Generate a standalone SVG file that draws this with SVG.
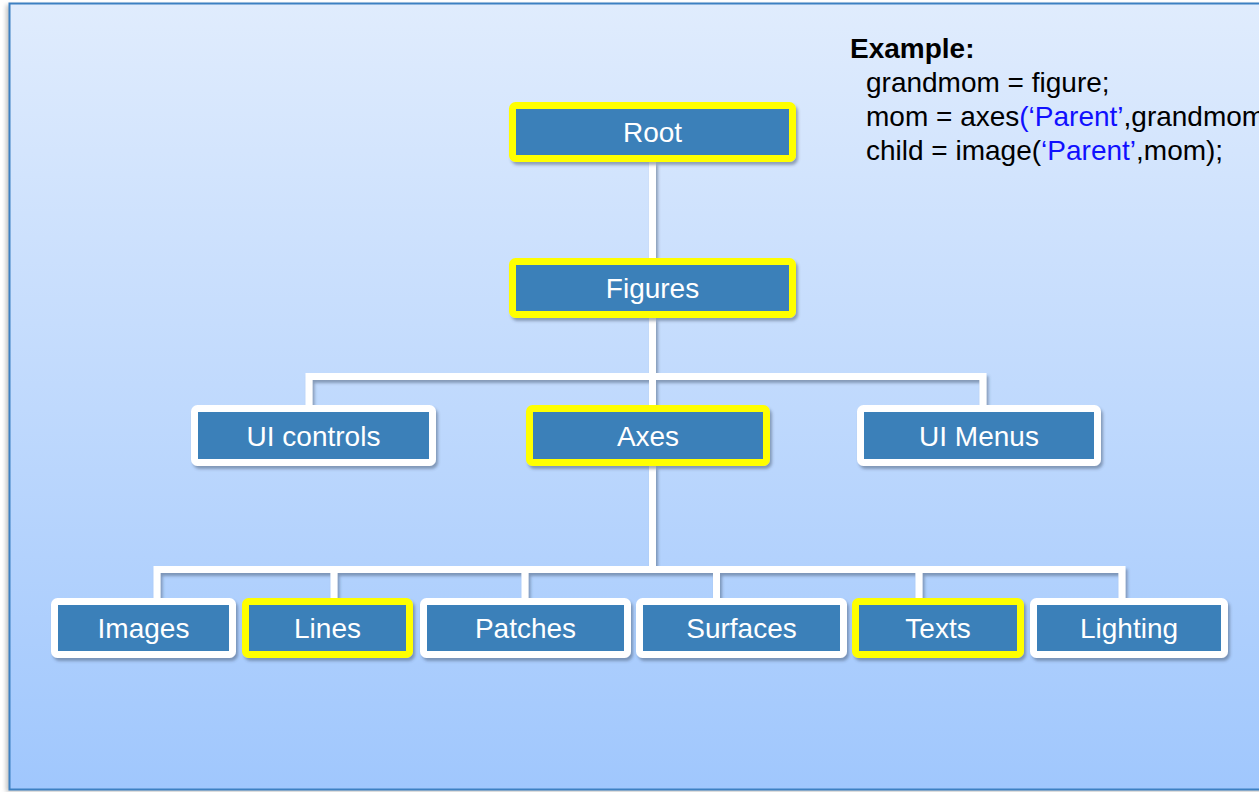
<svg xmlns="http://www.w3.org/2000/svg" width="1259" height="792" viewBox="0 0 1259 792">
<defs>
<linearGradient id="bg" x1="0" y1="0" x2="0" y2="1">
<stop offset="0" stop-color="#e0ecfd"/>
<stop offset="1" stop-color="#a0c7fd"/>
</linearGradient>
<filter id="sh" x="-10%" y="-10%" width="120%" height="130%">
<feDropShadow dx="2" dy="3" stdDeviation="1.6" flood-color="#3a4a60" flood-opacity="0.45"/>
</filter>
<filter id="psh" x="-5%" y="-5%" width="110%" height="110%">
<feGaussianBlur stdDeviation="2"/>
</filter>
</defs>
<style>
.box{fill:#3a80b9;stroke-width:7;filter:url(#sh)}
.w{stroke:#ffffff}
.y{stroke:#ffff00}
.lbl{font-family:"Liberation Sans",Arial,sans-serif;font-size:28px;fill:#ffffff;text-anchor:middle}
.code{font-family:"Liberation Sans",Arial,sans-serif;font-size:28px;fill:#000000}
.blue{fill:#1010ff}
.conn{fill:none;stroke:#ffffff;stroke-width:7;stroke-linecap:butt;stroke-linejoin:miter}
</style>
<rect x="0" y="0" width="1259" height="792" fill="#ffffff"/>
<rect x="6" y="5" width="1260" height="787" fill="#8a8a8a" opacity="0.5" filter="url(#psh)"/>
<rect x="9.5" y="3.5" width="1260" height="786" fill="url(#bg)" stroke="#3d80c2" stroke-width="2"/>

<g id="example">
<text class="code" x="850" y="58" font-weight="bold">Example:</text>
<text class="code" x="866" y="92">grandmom = figure;</text>
<text class="code" x="866" y="126">mom = axes<tspan class="blue">(‘Parent’</tspan>,grandmom</text>
<text class="code" x="866" y="160">child = image(<tspan class="blue">‘Parent’</tspan>,mom);</text>
</g>

<g id="connectors" filter="url(#sh)">
<path class="conn" d="M652.5 162 V258"/>
<path class="conn" d="M652.5 318 V405"/>
<path class="conn" d="M309 405 V376.5 H983 V405"/>
<path class="conn" d="M652.5 466 V569.5"/>
<path class="conn" d="M157 598 V569.5 H1122 V598"/>
<path class="conn" d="M334 569.5 V598"/>
<path class="conn" d="M525 569.5 V598"/>
<path class="conn" d="M716.5 569.5 V598"/>
<path class="conn" d="M919 569.5 V598"/>
</g>

<g id="root">
<rect class="box y" x="512.5" y="105.5" width="280" height="53" rx="3"/>
<text class="lbl" x="652.5" y="142">Root</text>
</g>
<g id="figures">
<rect class="box y" x="512.5" y="261.5" width="280" height="53" rx="3"/>
<text class="lbl" x="652.5" y="298">Figures</text>
</g>
<g id="uicontrols">
<rect class="box w" x="194.5" y="408.5" width="238" height="54" rx="3"/>
<text class="lbl" x="313.5" y="445.5">UI controls</text>
</g>
<g id="axes">
<rect class="box y" x="529.5" y="408.5" width="237" height="54" rx="3"/>
<text class="lbl" x="648" y="445.5">Axes</text>
</g>
<g id="uimenus">
<rect class="box w" x="860.5" y="408.5" width="237" height="54" rx="3"/>
<text class="lbl" x="979" y="445.5">UI Menus</text>
</g>
<g id="images">
<rect class="box w" x="54.5" y="601.5" width="178" height="53" rx="3"/>
<text class="lbl" x="143.5" y="638">Images</text>
</g>
<g id="lines">
<rect class="box y" x="245.5" y="601.5" width="164" height="53" rx="3"/>
<text class="lbl" x="327.5" y="638">Lines</text>
</g>
<g id="patches">
<rect class="box w" x="423.5" y="601.5" width="204" height="53" rx="3"/>
<text class="lbl" x="525.5" y="638">Patches</text>
</g>
<g id="surfaces">
<rect class="box w" x="639.5" y="601.5" width="204" height="53" rx="3"/>
<text class="lbl" x="741.5" y="638">Surfaces</text>
</g>
<g id="texts">
<rect class="box y" x="855.5" y="601.5" width="165" height="53" rx="3"/>
<text class="lbl" x="938" y="638">Texts</text>
</g>
<g id="lighting">
<rect class="box w" x="1033.5" y="601.5" width="191" height="53" rx="3"/>
<text class="lbl" x="1129" y="638">Lighting</text>
</g>
</svg>
